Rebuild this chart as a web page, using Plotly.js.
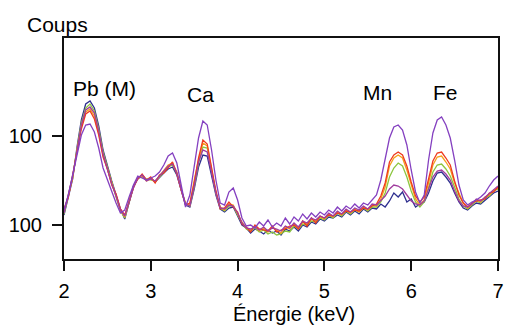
<!DOCTYPE html>
<html>
<head>
<meta charset="utf-8">
<script src="https://cdn.plot.ly/plotly-3.0.1.min.js"></script>
<style>
html,body{margin:0;padding:0;background:#fff;}
#chart{width:505px;height:325px;}
</style>
</head>
<body>
<div id="chart"></div>
<script>
// Energy axis (keV), step 0.05 from 2.00 to 7.00
const energy = [];
for (let i = 0; i <= 100; i++) energy.push(+(2 + i * 0.05).toFixed(2));

// Counts (arbitrary units)
const blue = [
  44, 61, 80, 112, 139, 155, 158, 151, 133, 109,
  93, 78, 64, 50, 40, 57, 73, 80, 84, 79,
  81, 77, 82, 86, 90, 92, 84, 68, 54, 52,
  70, 92, 104, 103, 85, 64, 50, 47, 51, 52,
  43, 34, 31, 26, 30, 28, 25, 29, 26, 28,
  24, 30, 28, 32, 28, 34, 32, 37, 35, 40,
  38, 42, 41, 44, 42, 47, 44, 48, 45, 50,
  47, 51, 50, 55, 52, 58, 66, 62, 67, 57,
  60, 52, 55, 57, 66, 78, 86, 87, 82, 76,
  66, 57, 51, 49, 53, 56, 55, 59, 62, 66,
  68];
const green = [
  45, 62, 82, 110, 136, 151, 155, 148, 130, 107,
  91, 77, 62, 48, 41, 58, 72, 81, 82, 80,
  79, 78, 82, 87, 92, 94, 86, 70, 55, 53,
  72, 96, 112, 111, 89, 66, 51, 48, 53, 53,
  44, 36, 30, 28, 31, 27, 29, 25, 27, 24,
  25, 28, 27, 33, 30, 35, 34, 38, 37, 41,
  39, 44, 41, 46, 43, 48, 45, 49, 47, 51,
  48, 52, 52, 57, 66, 82, 91, 96, 93, 82,
  68, 57, 52, 57, 71, 87, 94, 95, 90, 83,
  72, 60, 53, 50, 54, 58, 56, 61, 63, 68,
  70];
const orange = [
  47, 64, 81, 109, 133, 147, 150, 143, 126, 104,
  89, 76, 63, 49, 42, 59, 71, 82, 83, 78,
  80, 77, 83, 88, 94, 96, 87, 69, 56, 54,
  79, 99, 116, 113, 91, 67, 52, 49, 55, 54,
  45, 37, 31, 29, 33, 28, 31, 27, 32, 29,
  26, 32, 30, 35, 31, 37, 35, 40, 38, 42,
  40, 45, 42, 47, 44, 49, 46, 50, 47, 52,
  49, 54, 53, 60, 72, 93, 101, 104, 101, 89,
  74, 60, 54, 59, 76, 94, 102, 103, 97, 90,
  76, 65, 56, 51, 55, 59, 57, 62, 64, 69,
  71];
const red = [
  50, 62, 84, 106, 130, 145, 148, 140, 124, 102,
  90, 74, 65, 50, 44, 57, 72, 80, 85, 79,
  82, 76, 84, 86, 92, 97, 85, 70, 54, 56,
  76, 101, 119, 115, 93, 68, 50, 51, 57, 52,
  47, 35, 32, 27, 34, 30, 29, 28, 33, 27,
  29, 30, 33, 34, 30, 38, 33, 41, 36, 43,
  41, 44, 43, 46, 45, 48, 47, 49, 48, 51,
  50, 53, 55, 63, 76, 97, 104, 107, 104, 93,
  77, 63, 57, 62, 80, 98, 106, 107, 101, 94,
  78, 64, 56, 52, 56, 58, 59, 60, 66, 67,
  72];
const magenta = [
  46, 63, 83, 108, 134, 149, 152, 146, 128, 105,
  90, 75, 63, 49, 43, 58, 71, 81, 84, 78,
  80, 78, 83, 87, 93, 95, 86, 69, 55, 53,
  73, 97, 109, 107, 88, 66, 51, 50, 54, 53,
  46, 36, 31, 30, 32, 29, 32, 28, 31, 30,
  28, 33, 31, 36, 32, 38, 36, 41, 39, 43,
  41, 46, 43, 48, 45, 50, 47, 51, 49, 53,
  50, 55, 54, 58, 63, 70, 74, 73, 70, 64,
  58, 55, 54, 58, 70, 82, 88, 89, 85, 79,
  68, 58, 53, 52, 55, 60, 58, 62, 66, 70,
  73];
const violet = [
  49, 64, 84, 104, 124, 134, 135, 127, 111, 91,
  79, 67, 56, 46, 49, 62, 74, 83, 81, 79,
  81, 83, 87, 94, 103, 106, 96, 74, 52, 64,
  94, 121, 138, 134, 109, 79, 56, 54, 67, 71,
  59, 41, 33, 34, 31, 37, 33, 39, 32, 36,
  33, 41, 35, 42, 38, 45, 40, 46, 42, 47,
  44, 49, 46, 52, 48, 53, 50, 55, 51, 56,
  54, 59, 64, 79, 99, 121, 132, 134, 129, 114,
  89, 67, 56, 64, 99, 126, 139, 142, 134, 121,
  99, 74, 59, 54, 57, 59, 62, 66, 73, 79,
  83];

const seriesList = [
  {y: blue,    color: '#2e2f8f'},
  {y: green,   color: '#8cc63f'},
  {y: orange,  color: '#f6a01c'},
  {y: red,     color: '#ef3b1f'},
  {y: magenta, color: '#a03c9e'},
  {y: violet,  color: '#8440c0'}
];

const yTickVals = [34, 123];
const yTickText = ['100', '100'];
const xTickVals = [2, 3, 4, 5, 6, 7];

const traces = seriesList.map(s => ({
  x: energy, y: s.y, type: 'scatter', mode: 'lines',
  line: {color: s.color, width: 1.3},
  hoverinfo: 'skip', showlegend: false
}));

const fontFam = 'Liberation Sans, Arial, sans-serif';
const layout = {
  width: 505, height: 325,
  margin: {l: 64, r: 7, t: 38, b: 66},
  paper_bgcolor: '#ffffff', plot_bgcolor: '#ffffff',
  font: {family: fontFam, size: 21, color: '#000'},
  xaxis: {
    range: [2, 7], tickvals: xTickVals, ticks: 'outside', ticklen: 10, tickwidth: 2,
    tickcolor: '#111', showline: true, linewidth: 2, linecolor: '#111', mirror: true,
    showgrid: false, zeroline: false, ticklabelstandoff: 3,
    tickfont: {family: fontFam, size: 20, color: '#000'}
  },
  yaxis: {
    range: [0, 221], tickvals: yTickVals, ticktext: yTickText, ticks: 'outside',
    ticklen: 10, tickwidth: 2, tickcolor: '#111', showline: true, linewidth: 2,
    linecolor: '#111', mirror: true, showgrid: false, zeroline: false, ticklabelstandoff: 6,
    tickfont: {family: fontFam, size: 20, color: '#000'}
  },
  annotations: [
    {text: 'Coups', xref: 'paper', yref: 'paper', x: -0.015, y: 1.061, xanchor: 'center', yanchor: 'middle', showarrow: false, font: {size: 21}},
    {text: 'Énergie (keV)', xref: 'paper', yref: 'paper', x: 0.530, y: -0.249, xanchor: 'center', yanchor: 'middle', showarrow: false, font: {size: 20}},
    {text: 'Pb (M)', xref: 'x', yref: 'y', x: 2.467, y: 171, xanchor: 'center', yanchor: 'middle', showarrow: false, font: {size: 21}},
    {text: 'Ca', xref: 'x', yref: 'y', x: 3.567, y: 165, xanchor: 'center', yanchor: 'middle', showarrow: false, font: {size: 21}},
    {text: 'Mn', xref: 'x', yref: 'y', x: 5.617, y: 167, xanchor: 'center', yanchor: 'middle', showarrow: false, font: {size: 21}},
    {text: 'Fe', xref: 'x', yref: 'y', x: 6.395, y: 167, xanchor: 'center', yanchor: 'middle', showarrow: false, font: {size: 21}}
  ]
};

Plotly.newPlot('chart', traces, layout, {displayModeBar: false, staticPlot: true});
</script>
</body>
</html>
